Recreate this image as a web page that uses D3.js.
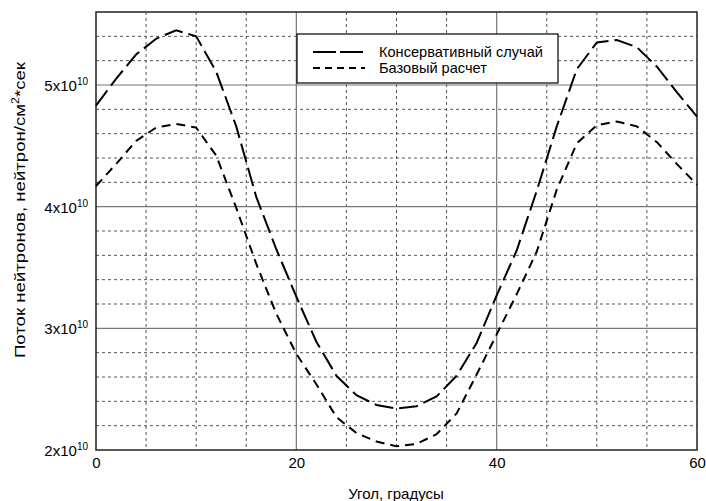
<!DOCTYPE html>
<html>
<head>
<meta charset="utf-8">
<script src="https://cdn.jsdelivr.net/npm/d3@7"></script>
<style>
    body { margin: 0; background: #fff; }
    text { font-family: "Liberation Sans", Arial, sans-serif; fill: #000; }
</style>
</head>
<body>
<script>
"use strict";

// angle, degrees
const angles = [0, 2, 4, 6, 8, 10, 12, 14, 16, 18, 20, 22, 24, 26, 28, 30,
    32, 34, 36, 38, 40, 42, 44, 46, 48, 50, 52, 54, 56, 58, 60]

// flux, x10^10 neutron/cm2*s
const conservative = [4.83, 5.05, 5.25, 5.38, 5.45, 5.40, 5.11, 4.66, 4.08, 3.65, 3.26,
    2.89, 2.61, 2.45, 2.37, 2.34, 2.36, 2.44, 2.61, 2.88, 3.27, 3.64, 4.13, 4.66,
    5.13, 5.35, 5.37, 5.31, 5.15, 4.94, 4.74]
const base = [4.17, 4.35, 4.54, 4.65, 4.68, 4.65, 4.42, 3.99, 3.53, 3.12, 2.79,
    2.54, 2.27, 2.14, 2.07, 2.03, 2.05, 2.13, 2.30, 2.62, 2.95, 3.28, 3.63, 4.14,
    4.52, 4.67, 4.70, 4.66, 4.53, 4.35, 4.18]

const xTicks = [0, 20, 40, 60]
const xMinor = [5, 10, 15, 25, 30, 35, 45, 50, 55]
const yTicks = [2, 3, 4, 5]
const yMinor = [2.2, 2.4, 2.6, 2.8, 3.2, 3.4, 3.6, 3.8, 4.2, 4.4, 4.6, 4.8, 5.2, 5.4]

const seriesNames = ["Консервативный случай", "Базовый расчет"]
const seriesDash = ["19,6", "9,6"]

const measurements = { width: 706, height: 501, left: 96, right: 697, top: 12, bottom: 450 }

const svg = d3.select("body").append("svg")
    .attr("width", measurements.width)
    .attr("height", measurements.height)

const scaleX = d3.scaleLinear().domain([0, 60]).range([measurements.left, measurements.right])
const scaleY = d3.scaleLinear().domain([2, 5.6]).range([measurements.bottom, measurements.top])

// grid
svg.append("g").selectAll("line").data(xMinor).enter().append("line")
    .attr("x1", d => scaleX(d)).attr("x2", d => scaleX(d))
    .attr("y1", measurements.top).attr("y2", measurements.bottom)
    .attr("stroke", "#555").attr("stroke-width", 1).attr("stroke-dasharray", "3,3")

svg.append("g").selectAll("line").data(yMinor).enter().append("line")
    .attr("x1", measurements.left).attr("x2", measurements.right)
    .attr("y1", d => scaleY(d)).attr("y2", d => scaleY(d))
    .attr("stroke", "#555").attr("stroke-width", 1).attr("stroke-dasharray", "3,3")

svg.append("g").selectAll("line").data(xTicks.slice(1, -1)).enter().append("line")
    .attr("x1", d => scaleX(d)).attr("x2", d => scaleX(d))
    .attr("y1", measurements.top).attr("y2", measurements.bottom)
    .attr("stroke", "#777").attr("stroke-width", 1.2)

svg.append("g").selectAll("line").data(yTicks.slice(1)).enter().append("line")
    .attr("x1", measurements.left).attr("x2", measurements.right)
    .attr("y1", d => scaleY(d)).attr("y2", d => scaleY(d))
    .attr("stroke", "#777").attr("stroke-width", 1.2)

// frame
svg.append("rect")
    .attr("x", measurements.left).attr("y", measurements.top)
    .attr("width", measurements.right - measurements.left)
    .attr("height", measurements.bottom - measurements.top)
    .attr("fill", "none").attr("stroke", "#222").attr("stroke-width", 1.5)

// axes labels
const xAxis = d3.axisBottom(scaleX).tickValues(xTicks).tickSize(0).tickPadding(7)
svg.append("g")
    .attr("transform", "translate(0," + measurements.bottom + ")")
    .call(xAxis)
    .call(g => g.select(".domain").remove())
    .selectAll("text").style("font-size", "15px").style("font-family", "Liberation Sans, Arial, sans-serif")

const yLabels = svg.append("g").selectAll("text").data(yTicks).enter().append("text")
    .attr("x", 88)
    .attr("y", d => scaleY(d) + 6)
    .attr("text-anchor", "end")
    .style("font-size", "15px")
yLabels.append("tspan").text(d => d + "x10")
yLabels.append("tspan").attr("dy", -6).style("font-size", "10px").text("10")

// lines
const line = d3.line()
    .x((d, i) => scaleX(angles[i]))
    .y(d => scaleY(d))

;[conservative, base].forEach(function(values, i) {
    svg.append("path")
        .datum(values)
        .attr("d", line)
        .attr("fill", "none")
        .attr("stroke", "#000")
        .attr("stroke-width", 2)
        .attr("stroke-dasharray", seriesDash[i])
})

// legend
const legend = svg.append("g").attr("transform", "translate(297,34)")
legend.append("rect")
    .attr("width", 261).attr("height", 49)
    .attr("fill", "#fff").attr("stroke", "#000").attr("stroke-width", 1.2)

seriesNames.forEach(function(name, i) {
    legend.append("line")
        .attr("x1", 16).attr("x2", 68)
        .attr("y1", 18 + i * 16).attr("y2", 18 + i * 16)
        .attr("stroke", "#000").attr("stroke-width", 2)
        .attr("stroke-dasharray", i === 0 ? "23,4" : "7,5")
    legend.append("text")
        .attr("x", 82).attr("y", 18 + i * 16 + 5)
        .style("font-size", "14.6px")
        .text(name)
})

// axis titles
svg.append("text")
    .attr("text-anchor", "middle")
    .attr("transform", "translate(" + 396 + "," + 499 + ")")
    .style("font-size", "15px")
    .text("Угол, градусы")

const yTitle = svg.append("text")
    .attr("text-anchor", "middle")
    .attr("transform", "translate(" + 25 + "," + 210 + ")rotate(-90)")
    .attr("textLength", 296)
    .attr("lengthAdjust", "spacingAndGlyphs")
    .style("font-size", "15px")
yTitle.append("tspan").text("Поток нейтронов, нейтрон/см")
yTitle.append("tspan").attr("dy", -6).style("font-size", "10px").text("2")
yTitle.append("tspan").attr("dy", 6).text("*сек")
</script>
</body>
</html>
